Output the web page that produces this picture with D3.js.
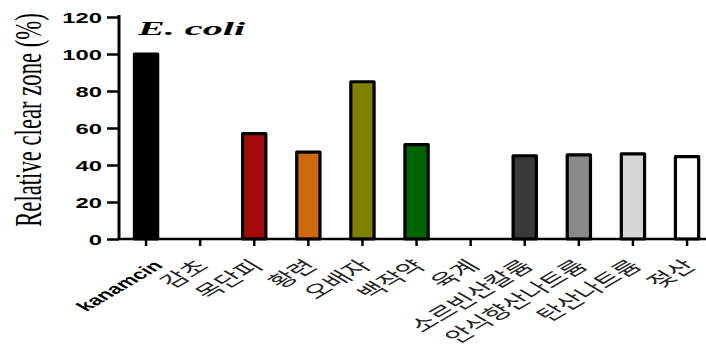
<!DOCTYPE html>
<html>
<head>
<meta charset="utf-8">
<script src="https://cdn.jsdelivr.net/npm/d3@7"></script>
<style>
  html, body { margin: 0; padding: 0; background: #fff; }
  svg { display: block; }
</style>
</head>
<body>
<svg id="chart" width="706" height="344"></svg>
<script>
// Relative clear zone of each treatment against E. coli
const categories = ["kanamcin", "감초", "목단피", "황련", "오배자", "백작약", "육계",
                    "소르빈산칼륨", "안식향산나트륨", "탄산나트륨", "젖산"];
const values = [100, 0, 57, 47, 85, 51, 0, 45, 45.5, 46, 44.5];
const barColors = ["#000000", "#ffffff", "#a30b0b", "#cc6a0e", "#808000", "#006400",
                   "#ffffff", "#3a3a3a", "#8a8a8a", "#d6d6d6", "#ffffff"];
const yTicks = [0, 20, 40, 60, 80, 100, 120];
const chartTitle = "E. coli";
const yTitle = "Relative clear zone (%)";

// Text is drawn horizontally widened
const SX = 1.7;

const svg = d3.select("#chart");
const plotLeft = 119, plotRight = 714.1, plotTop = 17, plotBottom = 239;

const x = d3.scaleBand()
  .domain(categories)
  .range([plotLeft, plotRight])
  .paddingInner(0.57)
  .paddingOuter(0.285);

const y = d3.scaleLinear().domain([0, 120]).range([plotBottom, plotTop]);

// Bars
svg.append("g")
  .selectAll("rect")
  .data(categories.map((c, i) => ({ c, v: values[i], col: barColors[i] })).filter(d => d.v > 0))
  .join("rect")
  .attr("x", d => x(d.c))
  .attr("y", d => y(d.v))
  .attr("width", x.bandwidth())
  .attr("height", d => y(0) - y(d.v))
  .attr("fill", d => d.col)
  .attr("stroke", "#000")
  .attr("stroke-width", 3.2)
  .attr("stroke-linejoin", "round");

// Y axis
const yAxis = svg.append("g")
  .attr("transform", `translate(${plotLeft},0)`)
  .call(d3.axisLeft(y).tickValues(yTicks).tickSize(12).tickSizeOuter(0));
yAxis.select(".domain").attr("stroke-width", 3).attr("d", `M0,${plotTop - 2}V${plotBottom}`);
yAxis.selectAll(".tick line").attr("stroke-width", 2.5);
yAxis.selectAll(".tick text")
  .attr("x", null).attr("dy", null)
  .attr("dominant-baseline", "central")
  .attr("transform", `translate(-17,0) scale(${SX},1)`)
  .attr("font-family", "'Liberation Sans', Arial, sans-serif")
  .attr("font-weight", "bold")
  .attr("font-size", 14)
  .attr("fill", "#000");

// X axis: category names slanted under each tick
const xAxis = svg.append("g")
  .attr("transform", `translate(0,${plotBottom})`)
  .call(d3.axisBottom(x).tickSize(7).tickSizeOuter(0));
xAxis.select(".domain").attr("stroke-width", 2.5).attr("d", `M${plotLeft},0H706`);
xAxis.selectAll(".tick line").attr("stroke-width", 2.5);
xAxis.selectAll(".tick text")
  .attr("y", null).attr("dy", "0.35em")
  .attr("text-anchor", "end")
  .attr("transform", d => d === "kanamcin"
    ? `translate(12,24) scale(${SX},1) rotate(-45)`
    : `translate(3,24) scale(${SX},1) rotate(-45)`)
  .attr("font-family", d => d === "kanamcin" ? "'Liberation Sans', Arial, sans-serif" : "'Noto Sans CJK KR', sans-serif")
  .attr("font-weight", d => d === "kanamcin" ? "bold" : "normal")
  .attr("font-size", d => d === "kanamcin" ? 14 : 17)
  .attr("fill", d => d === "kanamcin" ? "#000" : "#222");

// Y axis title
svg.append("text")
  .attr("transform", `translate(28,120) scale(${SX},1) rotate(-90)`)
  .attr("text-anchor", "middle")
  .attr("dominant-baseline", "central")
  .attr("font-family", "'Liberation Serif', 'Times New Roman', serif")
  .attr("font-size", 22.7)
  .attr("fill", "#000")
  .text(yTitle);

// Organism title
svg.append("text")
  .attr("transform", `translate(138,35) scale(${SX},1)`)
  .attr("font-family", "'Liberation Serif', 'Times New Roman', serif")
  .attr("font-style", "italic")
  .attr("font-weight", "bold")
  .attr("font-size", 19)
  .attr("textLength", 63)
  .attr("lengthAdjust", "spacingAndGlyphs")
  .attr("fill", "#000")
  .text(chartTitle);
</script>
</body>
</html>
